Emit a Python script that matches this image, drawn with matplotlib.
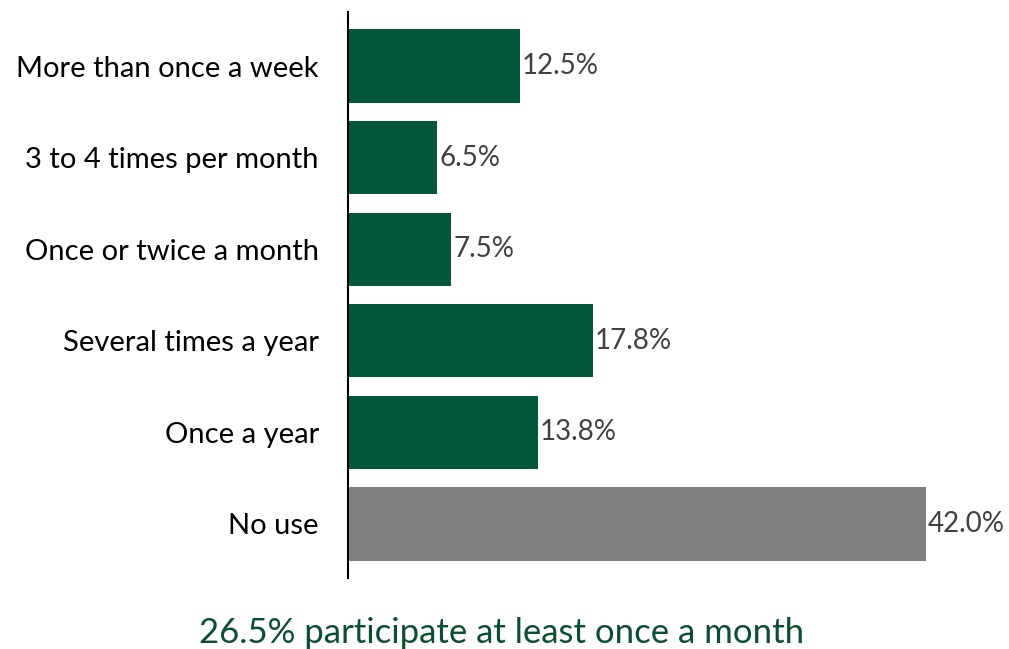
import matplotlib

matplotlib.use("Agg")

import matplotlib.pyplot as plt

# ---------- Data ----------

CATEGORIES = [
    "More than once a week",
    "3 to 4 times per month",
    "Once or twice a month",
    "Several times a year",
    "Once a year",
    "No use",
]
SHARES = [12.5, 6.5, 7.5, 17.8, 13.8, 42.0]
MONTHLY_SHARE = 26.5

GREEN = "#03573A"
GREY = "#808080"

plt.rcParams["font.family"] = ["Lato", "DejaVu Sans"]

fig = plt.figure(figsize=(10.09, 6.49), dpi=100)
ax = fig.add_axes([348 / 1009, 1 - 578 / 649, 660 / 1009, 566 / 649])

colors = [GREY if c == "No use" else GREEN for c in CATEGORIES]
ypos = range(len(CATEGORIES))
ax.barh(ypos, SHARES, height=0.8, color=colors)

for y, v in zip(ypos, SHARES):
    ax.text(v + 0.15, y, f"{v:.1f}%", va="center", ha="left",
            fontsize=20, color="#404040")

ax.set_yticks(list(ypos))
ax.set_yticklabels(CATEGORIES, fontsize=21, color="black")
ax.tick_params(axis="y", length=0, pad=21)
ax.set_ylim(5.59, -0.59)
ax.set_xlim(0, 48)
ax.set_xticks([])

for side in ("top", "right", "bottom"):
    ax.spines[side].set_visible(False)
ax.spines["left"].set_linewidth(1.5)

fig.text(502 / 1009, 1 - 633 / 649,
         f"{MONTHLY_SHARE:.1f}% participate at least once a month",
         ha="center", va="center", fontsize=25, color="#0B4F30")

fig.savefig("out.png", dpi=100)
plt.close(fig)
